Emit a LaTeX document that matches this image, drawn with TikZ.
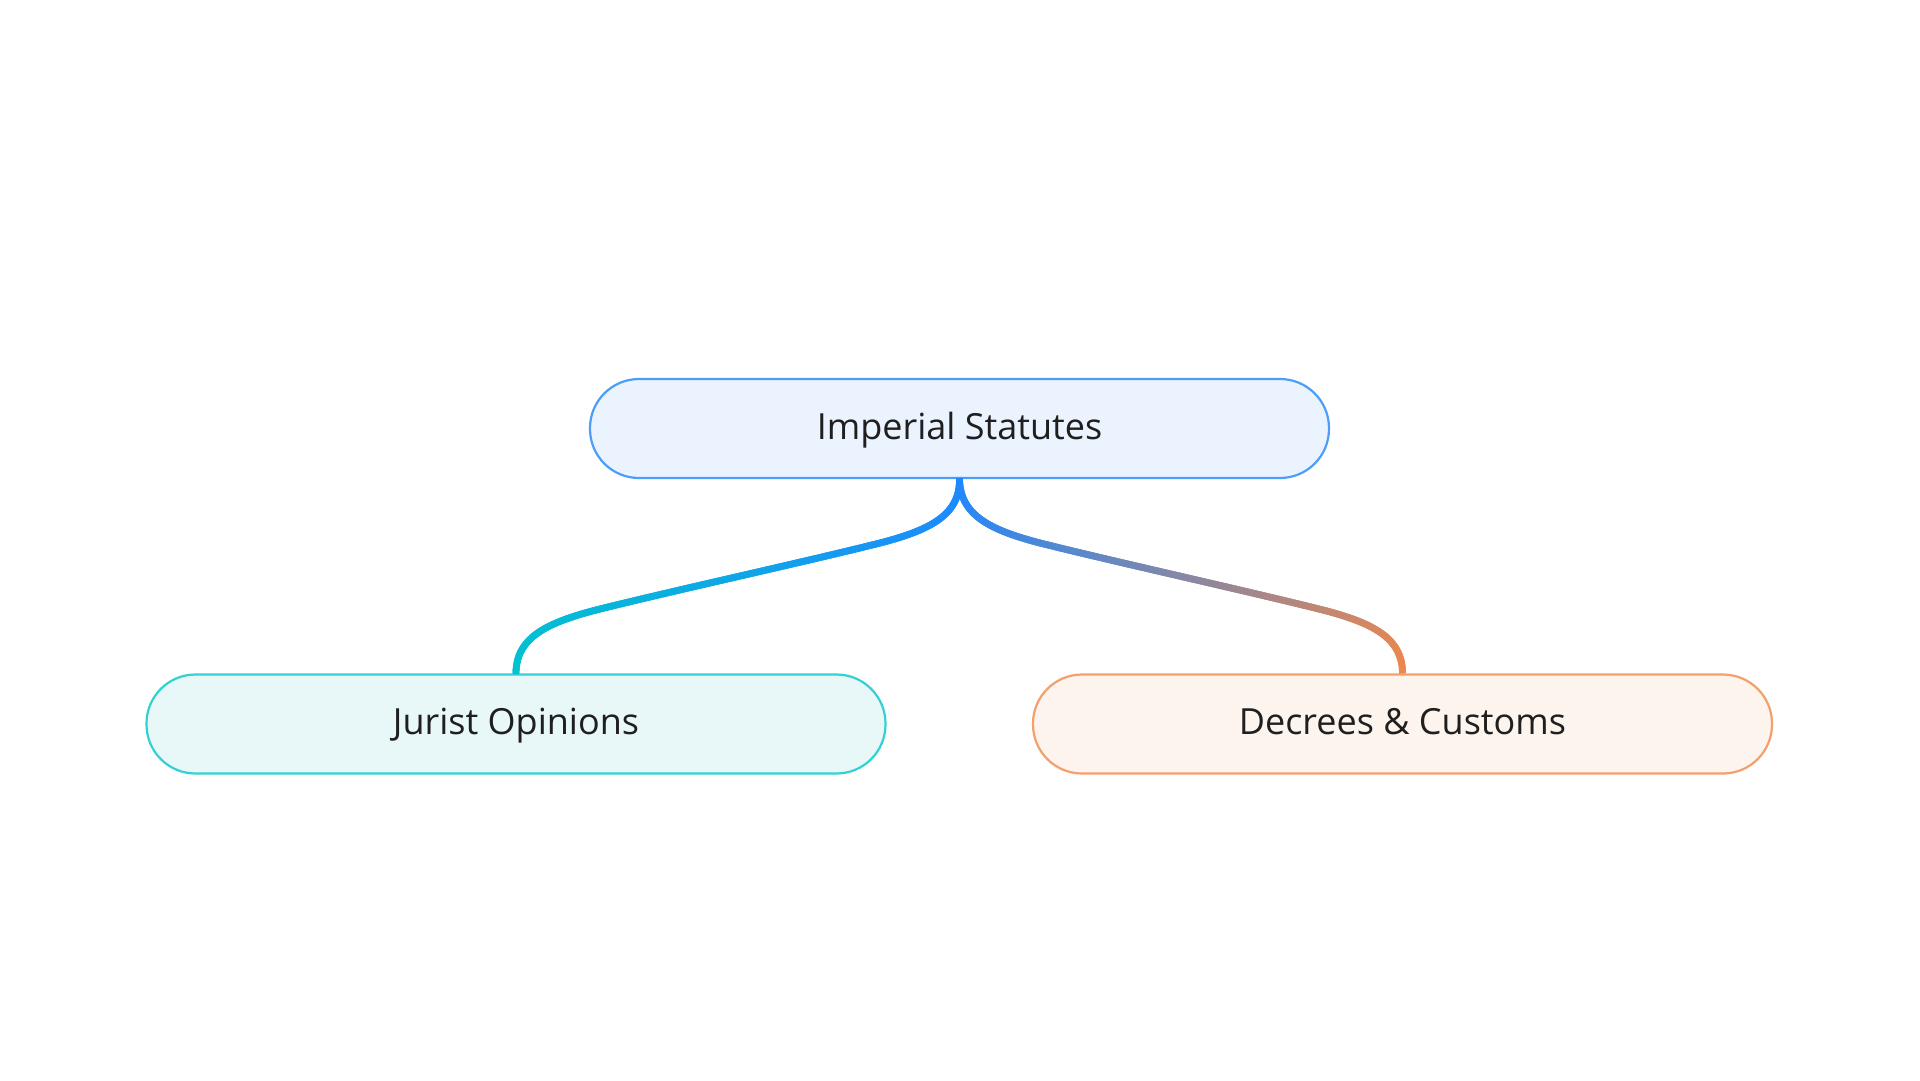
\documentclass[tikz,border=0pt]{standalone}
\usepackage{fontspec}
\setmainfont{Open Sans}
\usetikzlibrary{decorations.markings,calc}
\definecolor{topfill}{HTML}{EBF3FE}
\definecolor{topline}{HTML}{4D9EF8}
\definecolor{leftfill}{HTML}{E8F8F8}
\definecolor{leftline}{HTML}{33D1D4}
\definecolor{rightfill}{HTML}{FDF4EE}
\definecolor{rightline}{HTML}{F4A06E}
\definecolor{txt}{HTML}{1F1F1F}
\definecolor{cblue}{HTML}{1E88FF}
\definecolor{ccyan}{HTML}{00C4CF}
\definecolor{corange}{HTML}{F0874A}
\tikzset{
  topic/.style={draw, line width=2.2pt, rounded corners=49pt, minimum width=739pt,
    minimum height=99pt, inner sep=0pt, text=txt, text height=26pt, text depth=5pt,
    font=\fontsize{36}{43}\selectfont},
  gradline/.style 2 args={postaction={decorate, decoration={markings,
    mark=between positions 0 and 1 step 1pt with {
      \pgfmathsetmacro\fr{\pgfkeysvalueof{/pgf/decoration/mark info/distance from start}/\pgfdecoratedpathlength}
      \pgfmathtruncatemacro\pct{min(100,max(0,100*\fr))}
      \draw[line width=6.8pt, color=#2!\pct!#1] (-1.1pt,0) -- (1.1pt,0);
    }}}}
}
\begin{document}
\begin{tikzpicture}[x=1pt, y=-1pt]
\useasboundingbox[fill=white] (0,0) rectangle (1920,1080);
\node[topic, fill=topfill, draw=topline] (top) at (959.5,428.5) {Imperial Statutes};
\node[topic, fill=leftfill, draw=leftline] (jur) at (516,724) {Jurist Opinions};
\node[topic, fill=rightfill, draw=rightline] (dec) at (1402.5,724) {Decrees \& Customs};
\path[gradline={cblue}{ccyan}] (top.south) .. controls (960,515) and (930,530) .. (880,543)
  .. controls (800,563) and (676,590) .. (596,610) .. controls (546,623) and (516,638) .. (jur.north);
\path[gradline={cblue}{corange}] (top.south) .. controls (960,515) and (990,530) .. (1040,543)
  .. controls (1120,563) and (1243,590) .. (1323,610) .. controls (1373,623) and (1402.5,638) .. (dec.north);
\end{tikzpicture}
\end{document}
